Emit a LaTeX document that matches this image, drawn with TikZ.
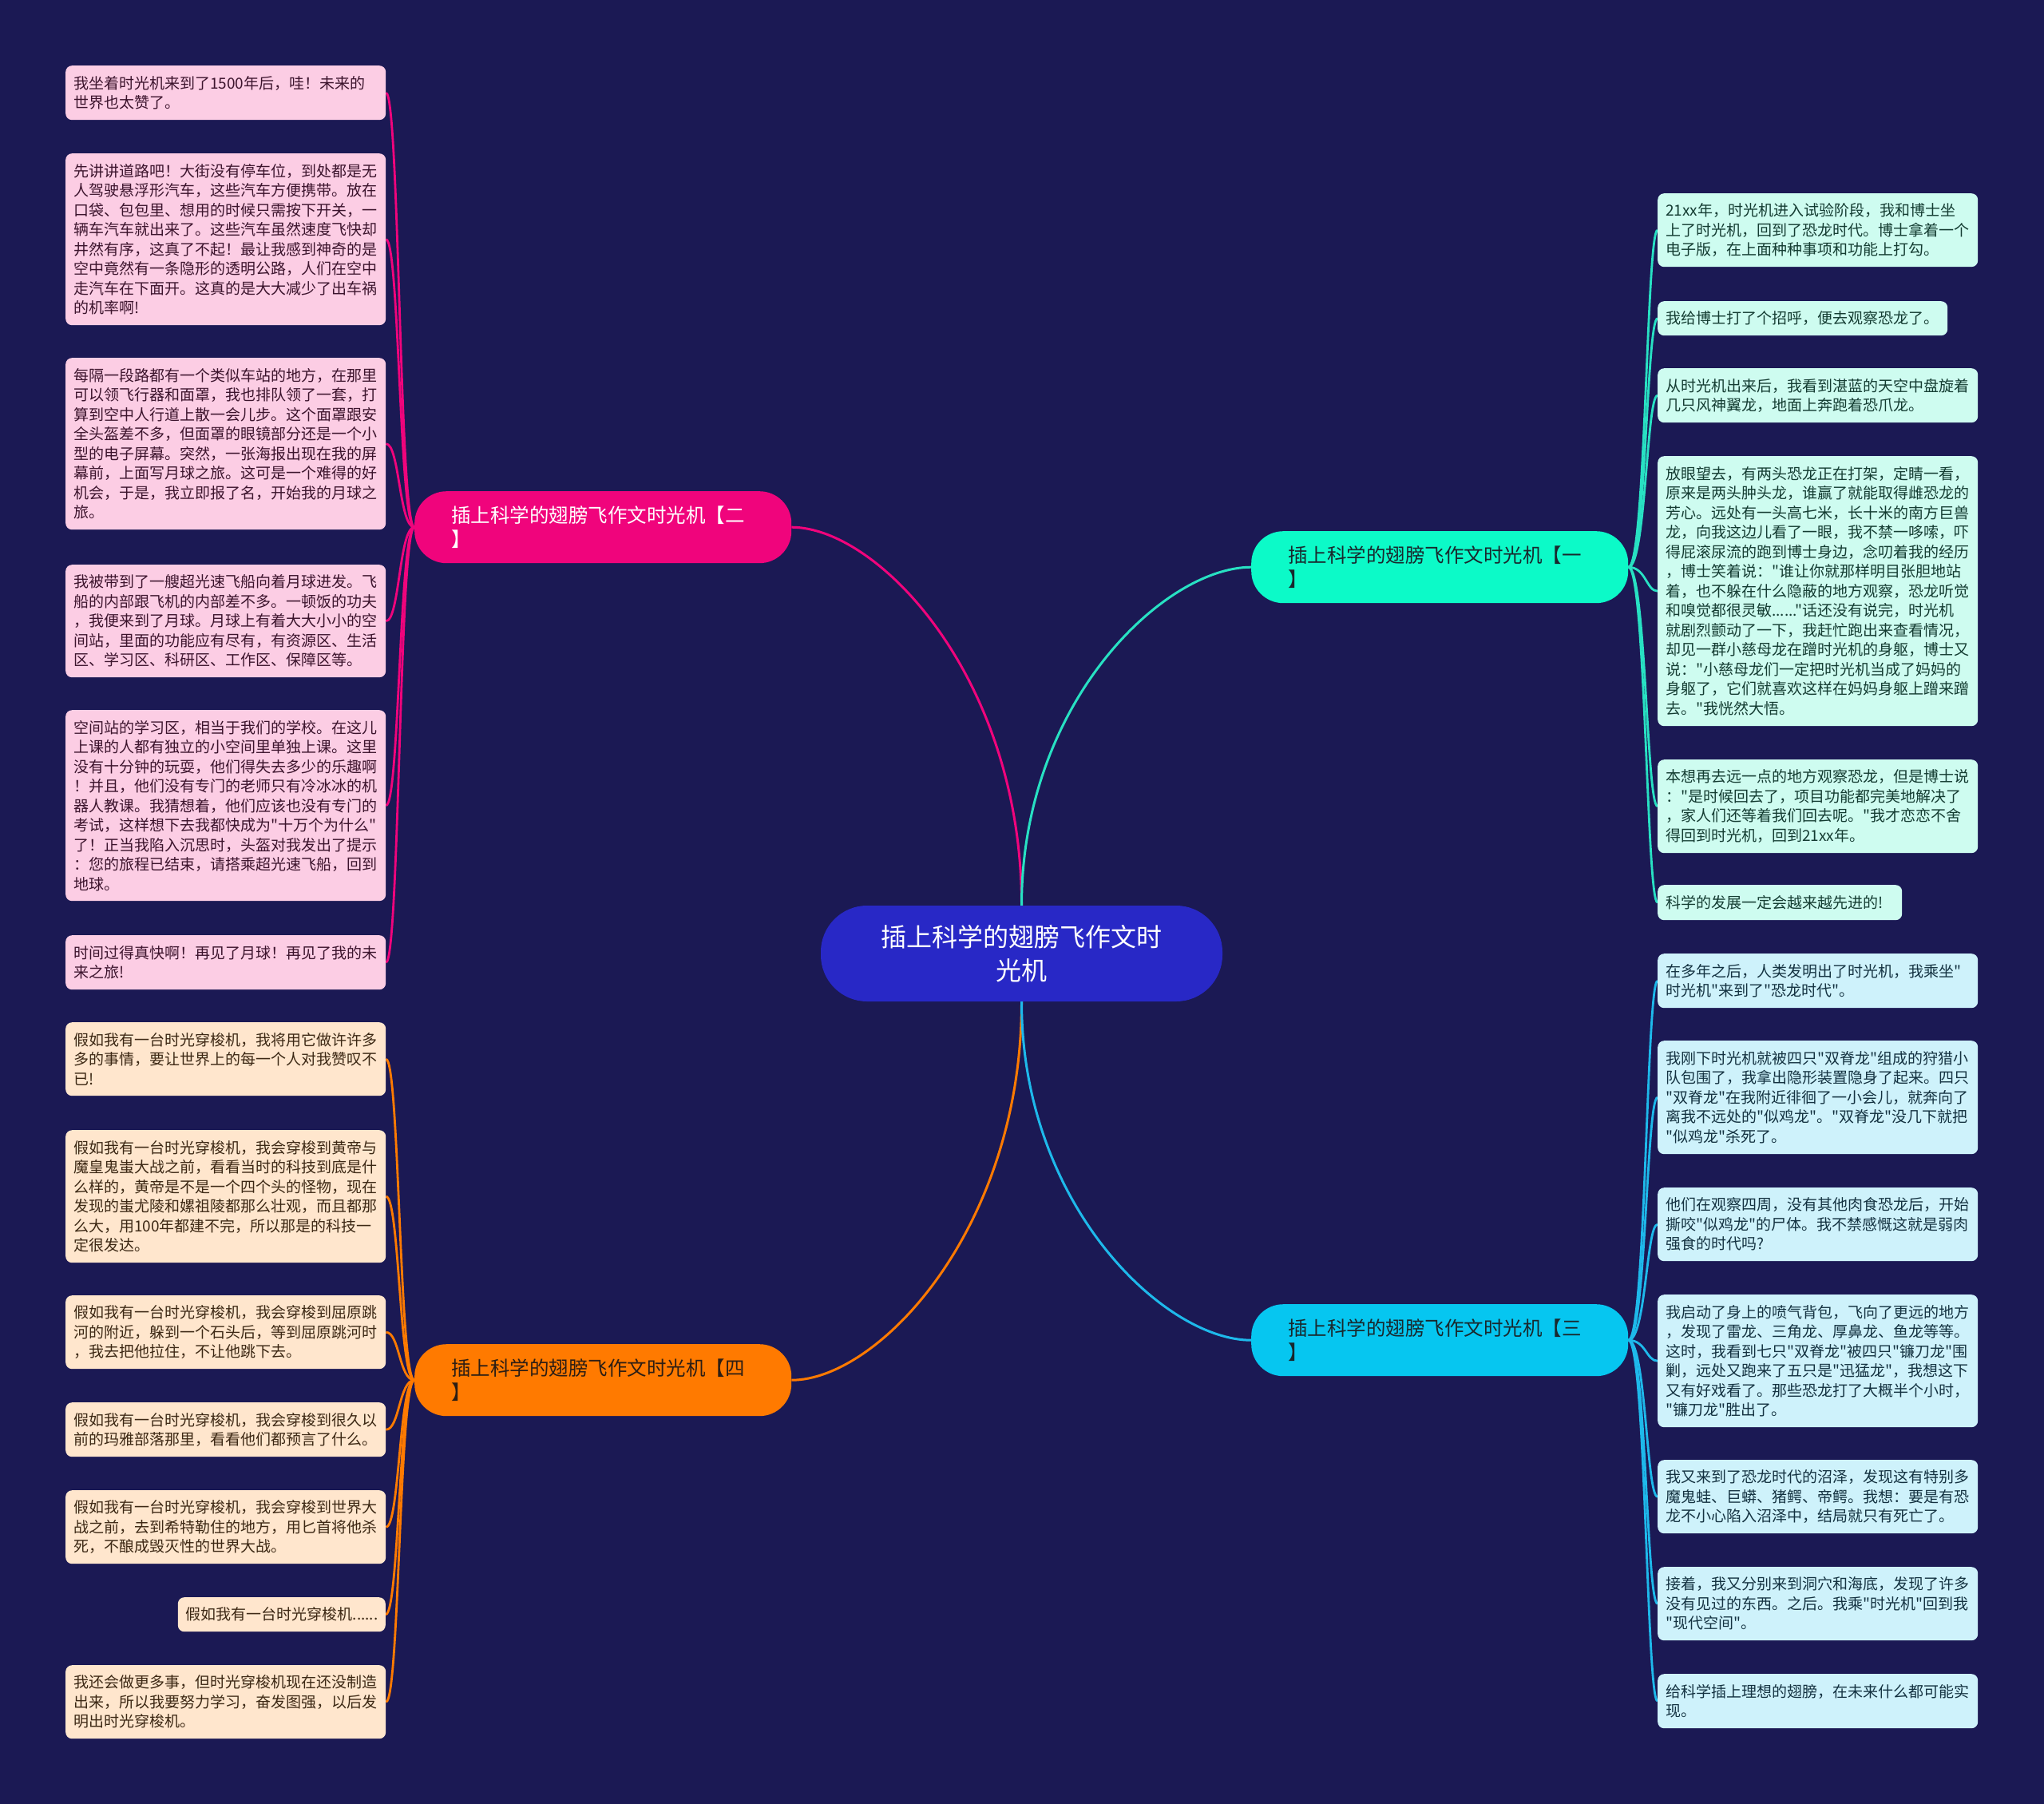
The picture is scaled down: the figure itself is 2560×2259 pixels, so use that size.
\documentclass[tikz,border=0pt]{standalone}
\usepackage{fontspec}
\setmainfont{Noto Sans CJK SC}[Ligatures=TeXOff]
\definecolor{bgc}{RGB}{27,25,84}
\definecolor{centerc}{RGB}{40,40,198}
\definecolor{pinkc}{RGB}{240,4,124}
\definecolor{mintc}{RGB}{12,250,200}
\definecolor{cyanc}{RGB}{6,198,240}
\definecolor{orangec}{RGB}{255,122,0}
\definecolor{pinkl}{RGB}{252,205,228}
\definecolor{peachl}{RGB}{255,230,205}
\definecolor{mintl}{RGB}{206,252,240}
\definecolor{cyanl}{RGB}{206,242,251}
\definecolor{pinkt}{RGB}{60,20,45}
\definecolor{peacht}{RGB}{60,40,20}
\definecolor{mintt}{RGB}{20,60,50}
\definecolor{cyant}{RGB}{20,50,65}
\definecolor{mintlinec}{RGB}{40,225,195}
\definecolor{cyanlinec}{RGB}{30,185,235}
\definecolor{darkt}{RGB}{25,40,45}
\definecolor{oranget}{RGB}{45,30,20}
\pgfdeclarelayer{back}
\pgfdeclarelayer{lines}
\pgfsetlayers{back,lines,main}
\begin{document}
\begin{tikzpicture}[x=1pt,y=-1pt,
  leaf/.style={anchor=north west,rounded corners=8pt,inner xsep=10pt,inner ysep=3pt,align=left,font=\fontsize{19}{24.5}\selectfont},
  wide/.style={text width=381pt},
  pk/.style={leaf,fill=pinkl,text=pinkt},
  pc/.style={leaf,fill=peachl,text=peacht},
  mt/.style={leaf,fill=mintl,text=mintt},
  cy/.style={leaf,fill=cyanl,text=cyant},
  branch/.style={anchor=north west,rounded corners=40pt,minimum height=90pt,text width=380pt,inner xsep=46pt,inner ysep=3pt,align=left,font=\fontsize{24.5}{30}\selectfont},
  mainln/.style={line width=3pt},
  leafln/.style={line width=2.8pt}
]
\begin{pgfonlayer}{back}
\fill[bgc] (0,0) rectangle (2560,2259);
\end{pgfonlayer}
\useasboundingbox (0,0) rectangle (2560,2259);

% center
\node[fill=centerc,text=white,rounded corners=58pt,minimum width=503pt,minimum height=120pt,align=center,font=\fontsize{32}{42}\selectfont] (c) at (1279.5,1194) {插上科学的翅膀飞作文时\\光机};

% branches
\node[branch,fill=pinkc,text=white] (b2) at (519,615) {插上科学的翅膀飞作文时光机【二\\】};
\node[branch,fill=mintc,text=darkt] (b1) at (1567,665) {插上科学的翅膀飞作文时光机【一\\】};
\node[branch,fill=cyanc,text=darkt] (b3) at (1567,1633) {插上科学的翅膀飞作文时光机【三\\】};
\node[branch,fill=orangec,text=oranget] (b4) at (519,1683) {插上科学的翅膀飞作文时光机【四\\】};

% branch 2 leaves
\node[pk,wide,minimum height=68pt] (l1) at (82,82) {我坐着时光机来到了1500年后，哇！未来的\\世界也太赞了。};
\node[pk,wide,minimum height=215pt] (l2) at (82,192) {先讲讲道路吧！大街没有停车位，到处都是无\\人驾驶悬浮形汽车，这些汽车方便携带。放在\\口袋、包包里、想用的时候只需按下开关，一\\辆车汽车就出来了。这些汽车虽然速度飞快却\\井然有序，这真了不起！最让我感到神奇的是\\空中竟然有一条隐形的透明公路，人们在空中\\走汽车在下面开。这真的是大大减少了出车祸\\的机率啊!};
\node[pk,wide,minimum height=215pt] (l3) at (82,448) {每隔一段路都有一个类似车站的地方，在那里\\可以领飞行器和面罩，我也排队领了一套，打\\算到空中人行道上散一会儿步。这个面罩跟安\\全头盔差不多，但面罩的眼镜部分还是一个小\\型的电子屏幕。突然，一张海报出现在我的屏\\幕前，上面写月球之旅。这可是一个难得的好\\机会，于是，我立即报了名，开始我的月球之\\旅。};
\node[pk,wide,minimum height=141pt] (l4) at (82,707) {我被带到了一艘超光速飞船向着月球进发。飞\\船的内部跟飞机的内部差不多。一顿饭的功夫\\，我便来到了月球。月球上有着大大小小的空\\间站，里面的功能应有尽有，有资源区、生活\\区、学习区、科研区、工作区、保障区等。};
\node[pk,wide,minimum height=239pt] (l5) at (82,889) {空间站的学习区，相当于我们的学校。在这儿\\上课的人都有独立的小空间里单独上课。这里\\没有十分钟的玩耍，他们得失去多少的乐趣啊\\！并且，他们没有专门的老师只有冷冰冰的机\\器人教课。我猜想着，他们应该也没有专门的\\考试，这样想下去我都快成为"十万个为什么"\\了！正当我陷入沉思时，头盔对我发出了提示\\：您的旅程已结束，请搭乘超光速飞船，回到\\地球。};
\node[pk,wide,minimum height=68pt] (l6) at (82,1171) {时间过得真快啊！再见了月球！再见了我的未\\来之旅!};

% branch 4 leaves
\node[pc,wide,minimum height=92pt] (p1) at (82,1280) {假如我有一台时光穿梭机，我将用它做许许多\\多的事情，要让世界上的每一个人对我赞叹不\\已!};
\node[pc,wide,minimum height=166pt] (p2) at (82,1415) {假如我有一台时光穿梭机，我会穿梭到黄帝与\\魔皇鬼蚩大战之前，看看当时的科技到底是什\\么样的，黄帝是不是一个四个头的怪物，现在\\发现的蚩尤陵和嫘祖陵都那么壮观，而且都那\\么大，用100年都建不完，所以那是的科技一\\定很发达。};
\node[pc,wide,minimum height=92pt] (p3) at (82,1622) {假如我有一台时光穿梭机，我会穿梭到屈原跳\\河的附近，躲到一个石头后，等到屈原跳河时\\，我去把他拉住，不让他跳下去。};
\node[pc,wide,minimum height=68pt] (p4) at (82,1756) {假如我有一台时光穿梭机，我会穿梭到很久以\\前的玛雅部落那里，看看他们都预言了什么。};
\node[pc,wide,minimum height=92pt] (p5) at (82,1866) {假如我有一台时光穿梭机，我会穿梭到世界大\\战之前，去到希特勒住的地方，用匕首将他杀\\死，不酿成毁灭性的世界大战。};
\node[pc,text width=240pt,minimum height=43pt,anchor=north east] (p6) at (483,2000) {假如我有一台时光穿梭机......};
\node[pc,wide,minimum height=92pt] (p7) at (82,2085) {我还会做更多事，但时光穿梭机现在还没制造\\出来，所以我要努力学习，奋发图强，以后发\\明出时光穿梭机。};

% branch 1 leaves
\node[mt,wide,minimum height=92pt] (r1) at (2076,242) {21xx年，时光机进入试验阶段，我和博士坐\\上了时光机，回到了恐龙时代。博士拿着一个\\电子版，在上面种种事项和功能上打勾。};
\node[mt,text width=343pt,minimum height=43pt] (r2) at (2076,377) {我给博士打了个招呼，便去观察恐龙了。};
\node[mt,wide,minimum height=68pt] (r3) at (2076,461) {从时光机出来后，我看到湛蓝的天空中盘旋着\\几只风神翼龙，地面上奔跑着恐爪龙。};
\node[mt,wide,minimum height=338pt] (r4) at (2076,571) {放眼望去，有两头恐龙正在打架，定睛一看，\\原来是两头肿头龙，谁赢了就能取得雌恐龙的\\芳心。远处有一头高七米，长十米的南方巨兽\\龙，向我这边儿看了一眼，我不禁一哆嗦，吓\\得屁滚尿流的跑到博士身边，念叨着我的经历\\，博士笑着说："谁让你就那样明目张胆地站\\着，也不躲在什么隐蔽的地方观察，恐龙听觉\\和嗅觉都很灵敏......"话还没有说完，时光机\\就剧烈颤动了一下，我赶忙跑出来查看情况，\\却见一群小慈母龙在蹭时光机的身躯，博士又\\说："小慈母龙们一定把时光机当成了妈妈的\\身躯了，它们就喜欢这样在妈妈身躯上蹭来蹭\\去。"我恍然大悟。};
\node[mt,wide,minimum height=117pt] (r5) at (2076,951) {本想再去远一点的地方观察恐龙，但是博士说\\："是时候回去了，项目功能都完美地解决了\\，家人们还等着我们回去呢。"我才恋恋不舍\\得回到时光机，回到21xx年。};
\node[mt,text width=286pt,minimum height=44pt] (r6) at (2076,1108) {科学的发展一定会越来越先进的!};

% branch 3 leaves
\node[cy,wide,minimum height=68pt] (s1) at (2076,1194) {在多年之后，人类发明出了时光机，我乘坐"\\时光机"来到了"恐龙时代"。};
\node[cy,wide,minimum height=142pt] (s2) at (2076,1303) {我刚下时光机就被四只"双脊龙"组成的狩猎小\\队包围了，我拿出隐形装置隐身了起来。四只\\"双脊龙"在我附近徘徊了一小会儿，就奔向了\\离我不远处的"似鸡龙"。"双脊龙"没几下就把\\"似鸡龙"杀死了。};
\node[cy,wide,minimum height=92pt] (s3) at (2076,1487) {他们在观察四周，没有其他肉食恐龙后，开始\\撕咬"似鸡龙"的尸体。我不禁感慨这就是弱肉\\强食的时代吗?};
\node[cy,wide,minimum height=166pt] (s4) at (2076,1621) {我启动了身上的喷气背包，飞向了更远的地方\\，发现了雷龙、三角龙、厚鼻龙、鱼龙等等。\\这时，我看到七只"双脊龙"被四只"镰刀龙"围\\剿，远处又跑来了五只是"迅猛龙"，我想这下\\又有好戏看了。那些恐龙打了大概半个小时，\\"镰刀龙"胜出了。};
\node[cy,wide,minimum height=92pt] (s5) at (2076,1828) {我又来到了恐龙时代的沼泽，发现这有特别多\\魔鬼蛙、巨蟒、猪鳄、帝鳄。我想：要是有恐\\龙不小心陷入沼泽中，结局就只有死亡了。};
\node[cy,wide,minimum height=92pt] (s6) at (2076,1962) {接着，我又分别来到洞穴和海底，发现了许多\\没有见过的东西。之后。我乘"时光机"回到我\\"现代空间"。};
\node[cy,wide,minimum height=68pt] (s7) at (2076,2096) {给科学插上理想的翅膀，在未来什么都可能实\\现。};

\begin{pgfonlayer}{lines}
\draw[mainln,pinkc] (c.north) .. controls +(0,-284) and +(109,0) .. (b2.east);
\draw[mainln,mintlinec] (c.north) .. controls +(0,-254) and +(-109,0) .. (b1.west);
\draw[mainln,orangec] (c.south) .. controls +(0,284) and +(109,0) .. (b4.east);
\draw[mainln,cyanlinec] (c.south) .. controls +(0,254) and +(-109,0) .. (b3.west);
\foreach \n in {l1,l2,l3,l4,l5,l6}
  \draw[leafln,pinkc] (b2.west) .. controls +(-19,0) and +(17,0) .. (\n.east);
\foreach \n in {p1,p2,p3,p4,p5,p6,p7}
  \draw[leafln,orangec] (b4.west) .. controls +(-19,0) and +(17,0) .. (\n.east);
\foreach \n in {r1,r2,r3,r4,r5,r6}
  \draw[leafln,mintlinec] (b1.east) .. controls +(22,0) and +(-14,0) .. (\n.west);
\foreach \n in {s1,s2,s3,s4,s5,s6,s7}
  \draw[leafln,cyanlinec] (b3.east) .. controls +(22,0) and +(-14,0) .. (\n.west);
\end{pgfonlayer}
\end{tikzpicture}
\end{document}
